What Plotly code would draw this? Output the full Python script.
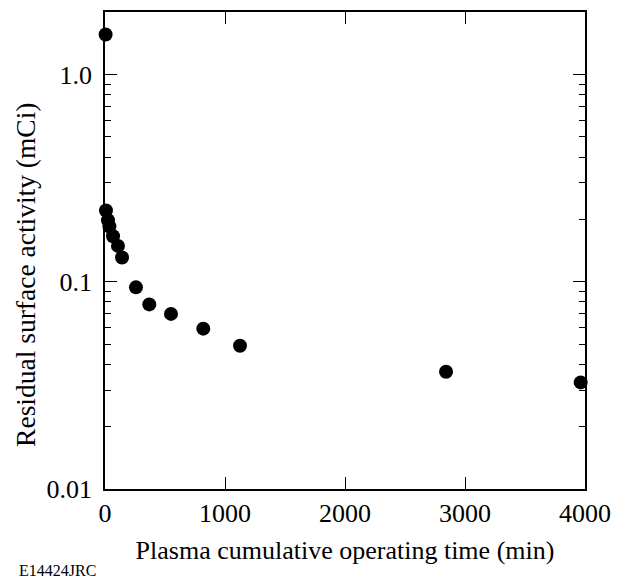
import plotly.graph_objects as go

time_min = [5, 8, 25, 37, 67, 108, 142, 258, 369, 550, 819, 1125, 2842, 3964]
activity_mci = [1.56, 0.221, 0.198, 0.185, 0.166, 0.149, 0.131, 0.094, 0.0778, 0.070, 0.0594, 0.0491, 0.0368, 0.0327]

x_ticks = [0, 1000, 2000, 3000, 4000]
y_ticks = [0.01, 0.1, 1.0]
y_tick_labels = ["0.01", "0.1", "1.0"]
y_minor = [d * 0.01 for d in range(2, 10)] + [d * 0.1 for d in range(2, 10)]

font = "Liberation Serif"

fig = go.Figure()
fig.add_trace(go.Scatter(
    x=time_min, y=activity_mci, mode="markers",
    marker=dict(size=14, color="black"),
    showlegend=False, cliponaxis=False,
))

fig.update_layout(
    width=626, height=582,
    margin=dict(l=105, r=41, t=10, b=93),
    paper_bgcolor="white", plot_bgcolor="white",
    font=dict(family=font, size=26, color="black"),
    xaxis=dict(
        range=[0, 4000], tickvals=x_ticks, ticks="inside", ticklen=12,
        tickwidth=1.2, tickcolor="black", showgrid=False, zeroline=False,
        showline=True, linecolor="black", linewidth=1.5, mirror="ticks",
        title=dict(text="Plasma cumulative operating time (min)", standoff=14,
                   font=dict(family=font, size=26)),
        tickfont=dict(family=font, size=26),
    ),
    yaxis=dict(
        type="log", range=[-2, 0.302], tickvals=y_ticks, ticktext=y_tick_labels,
        ticks="inside", ticklen=12, tickwidth=1.2, tickcolor="black",
        showgrid=False, zeroline=False, showline=True, linecolor="black",
        linewidth=1.5, mirror="ticks", ticklabelstandoff=6,
        minor=dict(tickvals=y_minor, ticks="inside", ticklen=6,
                   tickwidth=1.2, tickcolor="black", showgrid=False),
        tickfont=dict(family=font, size=26),
    ),
)

fig.add_annotation(
    text="Residual surface activity (mCi)", xref="paper", yref="paper",
    x=(26 - 105) / 480, y=(489 - 274) / 479, textangle=-90,
    xanchor="center", yanchor="middle", showarrow=False,
    font=dict(family=font, size=27.5, color="black"),
)

fig.add_annotation(
    text="E14424JRC", xref="paper", yref="paper",
    x=-88/480, y=-(582-489-1)/479,
    xanchor="left", yanchor="bottom", showarrow=False,
    font=dict(family=font, size=16, color="black"),
)

fig.write_html("out.html")
